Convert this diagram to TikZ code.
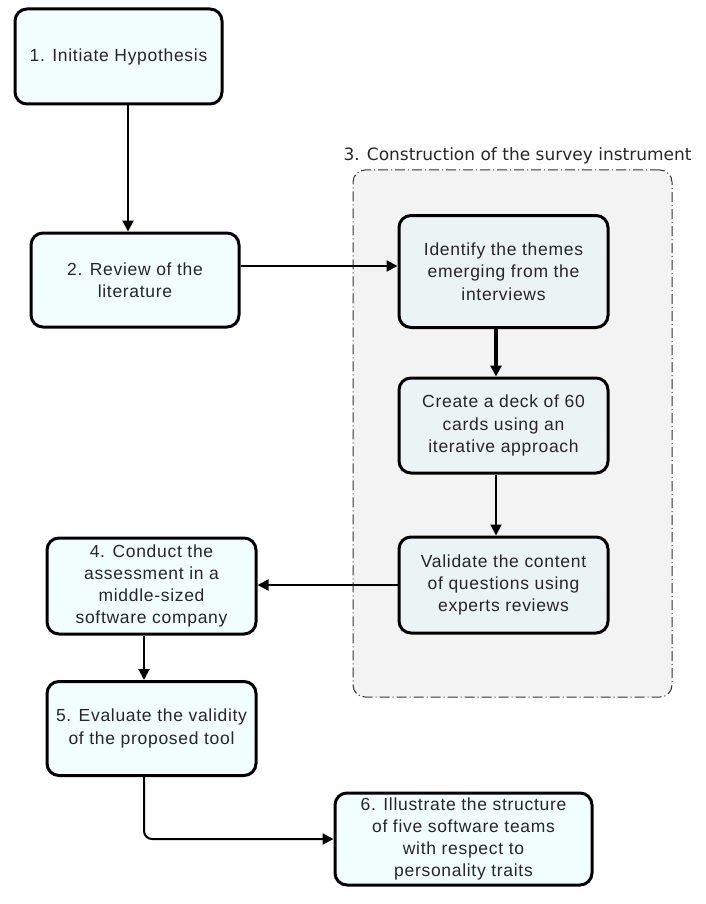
\documentclass[tikz,border=0pt]{standalone}
\usepackage{fontspec}
\setmainfont{Liberation Sans}[LetterSpace=4]
\newfontfamily\lblfont{DejaVu Sans}
\usetikzlibrary{arrows.meta}
\definecolor{boxfill}{HTML}{F2FEFE}
\definecolor{innerfill}{HTML}{EBF3F4}
\definecolor{grpfill}{HTML}{F3F3F3}
\tikzset{
  stepbox/.style={draw=black, line width=3pt, rounded corners=12pt, fill=boxfill, align=center,
    font=\fontsize{17.5}{22.3}\selectfont, text=black!85, inner sep=0pt},
  innerbox/.style={stepbox, fill=innerfill},
  grpbox/.style={draw=black!80, line width=1pt, dash pattern=on 10pt off 3pt on 1pt off 3pt, rounded corners=12pt, fill=grpfill, inner sep=0pt},
  arr/.style={draw=black, line width=2pt, -{Triangle[length=11pt,width=11pt]}},
}
\begin{document}
\begin{tikzpicture}[x=1pt,y=-1pt]
\useasboundingbox (0,0) rectangle (706,904);
\node[grpbox, minimum width=319pt, minimum height=527pt] (grp) at (512.5,433.5) {};
\node[font=\lblfont\fontsize{17}{20}\selectfont, text=black!85, anchor=base, inner sep=0pt] (grplbl) at (517.5,161) {3. Construction of the survey instrument};

\node[stepbox, minimum width=207pt, minimum height=95pt] (b1) at (118.5,56.5) {1. Initiate Hypothesis};
\node[stepbox, minimum width=208pt, minimum height=94pt] (b2) at (135,280) {2. Review of the\\literature};
\node[innerbox, minimum width=209pt, minimum height=112pt] (b3a) at (503.5,271.5) {Identify the themes\\emerging from the\\interviews};
\node[innerbox, minimum width=209pt, minimum height=95pt] (b3b) at (503.5,425.5) {Create a deck of 60\\cards using an\\iterative approach};
\node[innerbox, minimum width=209pt, minimum height=96pt] (b3c) at (503.5,585) {Validate the content\\of questions using\\experts reviews};
\node[stepbox, minimum width=209pt, minimum height=96pt] (b4) at (151.5,586) {4. Conduct the\\assessment in a\\middle-sized\\software company};
\node[stepbox, minimum width=209pt, minimum height=94pt] (b5) at (151.5,728.5) {5. Evaluate the validity\\of the proposed tool};
\node[stepbox, minimum width=257pt, minimum height=92pt] (b6) at (463.5,839) {6. Illustrate the structure\\of five software teams\\with respect to\\personality traits};

\draw[arr] ([xshift=9.5pt]b1.south) -- ([xshift=-7pt]b2.north);
\draw[arr] ([yshift=14pt]b2.east) -- ([yshift=14pt]b2.east -| b3a.west);
\draw[arr, line width=3.5pt] ([xshift=-7.5pt]b3a.south) -- ([xshift=-7.5pt]b3b.north);
\draw[arr] ([xshift=-7.5pt]b3b.south) -- ([xshift=-7.5pt]b3c.north);
\draw[arr] (b3c.west) -- (b3c.west -| b4.east);
\draw[arr] ([xshift=-7.5pt]b4.south) -- ([xshift=-7.5pt]b5.north);
\draw[arr, rounded corners=8pt] ([xshift=-7.5pt]b5.south) |- (b6.west);
\end{tikzpicture}
\end{document}
